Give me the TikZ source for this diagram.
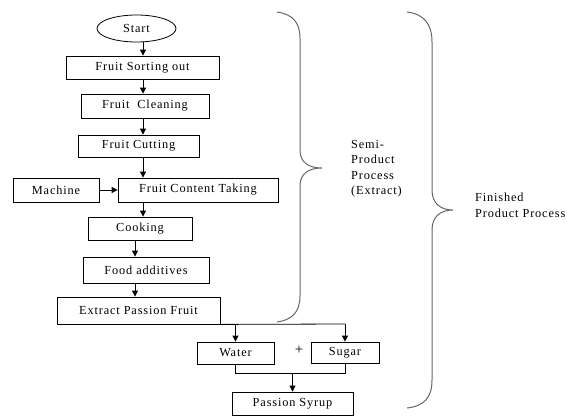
\documentclass[tikz,border=0pt]{standalone}
\usepackage{fontspec}
\usetikzlibrary{shapes.geometric,arrows.meta}
\newfontfamily\bxf{Liberation Serif}[LetterSpace=7]
\begin{document}
\begin{tikzpicture}[x=1pt,y=-1pt,
  every node/.style={font=\bxf\fontsize{12.3}{15.5}\selectfont},
  box/.style={draw, line width=0.8pt, inner sep=0pt},
  arr/.style={line width=0.8pt, -{Triangle[length=6pt,width=6pt]}},
  ln/.style={line width=0.8pt},
  brace/.style={draw=black!60, line width=1pt},
  lbl/.style={align=left, inner sep=0pt}]
\useasboundingbox (0,0) rectangle (567,418);
\node[box, ellipse, minimum width=79pt, minimum height=27pt] (start) at (136.5,28.5) {Start};
\node[box, minimum width=153pt, minimum height=23pt] (sort) at (142.5,67.5) {Fruit Sorting out};
\node[box, minimum width=128pt, minimum height=24pt] (clean) at (145,106) {Fruit\ \ Cleaning};
\node[box, minimum width=121pt, minimum height=22pt] (cut) at (138.5,146) {Fruit Cutting};
\node[box, minimum width=86pt, minimum height=24pt] (machine) at (56,190) {Machine};
\node[box, minimum width=160pt, minimum height=24pt] (fct) at (198,190) {Fruit Content Taking};
\node[box, minimum width=104pt, minimum height=23pt] (cook) at (140,228.5) {Cooking};
\node[box, minimum width=126pt, minimum height=26pt] (food) at (146,270) {Food additives};
\node[box, minimum width=163pt, minimum height=27pt] (extract) at (138.5,310.5) {Extract Passion Fruit};
\node[box, minimum width=77pt, minimum height=22pt] (water) at (235.5,353) {Water};
\node[box, minimum width=68pt, minimum height=21pt] (sugar) at (345,352.5) {Sugar};
\node[inner sep=0pt, font=\bxf\fontsize{15}{15}\selectfont] (plus) at (299,350) {+};
\node[box, minimum width=121pt, minimum height=23pt] (syrup) at (292.5,403.5) {Passion Syrup};
\coordinate (c1) at (143,0);
\coordinate (c2) at (135,0);
\draw[arr] (c1 |- start.south) -- (c1 |- sort.north);
\draw[arr] (c1 |- sort.south) -- (c1 |- clean.north);
\draw[arr] (c1 |- clean.south) -- (c1 |- cut.north);
\draw[arr] (c1 |- cut.south) -- (c1 |- fct.north);
\draw[arr] (c1 |- fct.south) -- (c1 |- cook.north);
\draw[arr] (c2 |- cook.south) -- (c2 |- food.north);
\draw[arr] (c2 |- food.south) -- (c2 |- extract.north);
\draw[arr] (machine.east) -- (fct.west);
\coordinate (br) at (345,324);
\draw[ln] (extract.south east) -- (br);
\draw[arr] (water.north |- br) -- (water.north);
\draw[arr] (br) -- (sugar.north);
\coordinate (jn) at (0,373);
\draw[ln] (water.south) -- (water.south |- jn) -- (sugar.south |- jn) -- (sugar.south);
\draw[arr] (syrup.north |- jn) -- (syrup.north);
% braces
\draw[brace] (277,12) .. controls (292,14) and (300,22) .. (300,38) -- (300,150)
  .. controls (300,162) and (308,168) .. (322,168)
  .. controls (308,168) and (300,174) .. (300,186) -- (300,296)
  .. controls (300,312) and (292,320) .. (277,322);
\draw[brace] (407,12) .. controls (424,14) and (432,24) .. (432,42) -- (432,190)
  .. controls (432,203) and (440,210) .. (453,210)
  .. controls (440,210) and (432,217) .. (432,230) -- (432,380)
  .. controls (432,398) and (424,406) .. (407,408);
\node[lbl, anchor=north west] (semi) at (351,140) {Semi-\\Product\\Process\\(Extract)};
\node[lbl, anchor=north west] (fin) at (475,193) {Finished\\Product Process};
\end{tikzpicture}
\end{document}
